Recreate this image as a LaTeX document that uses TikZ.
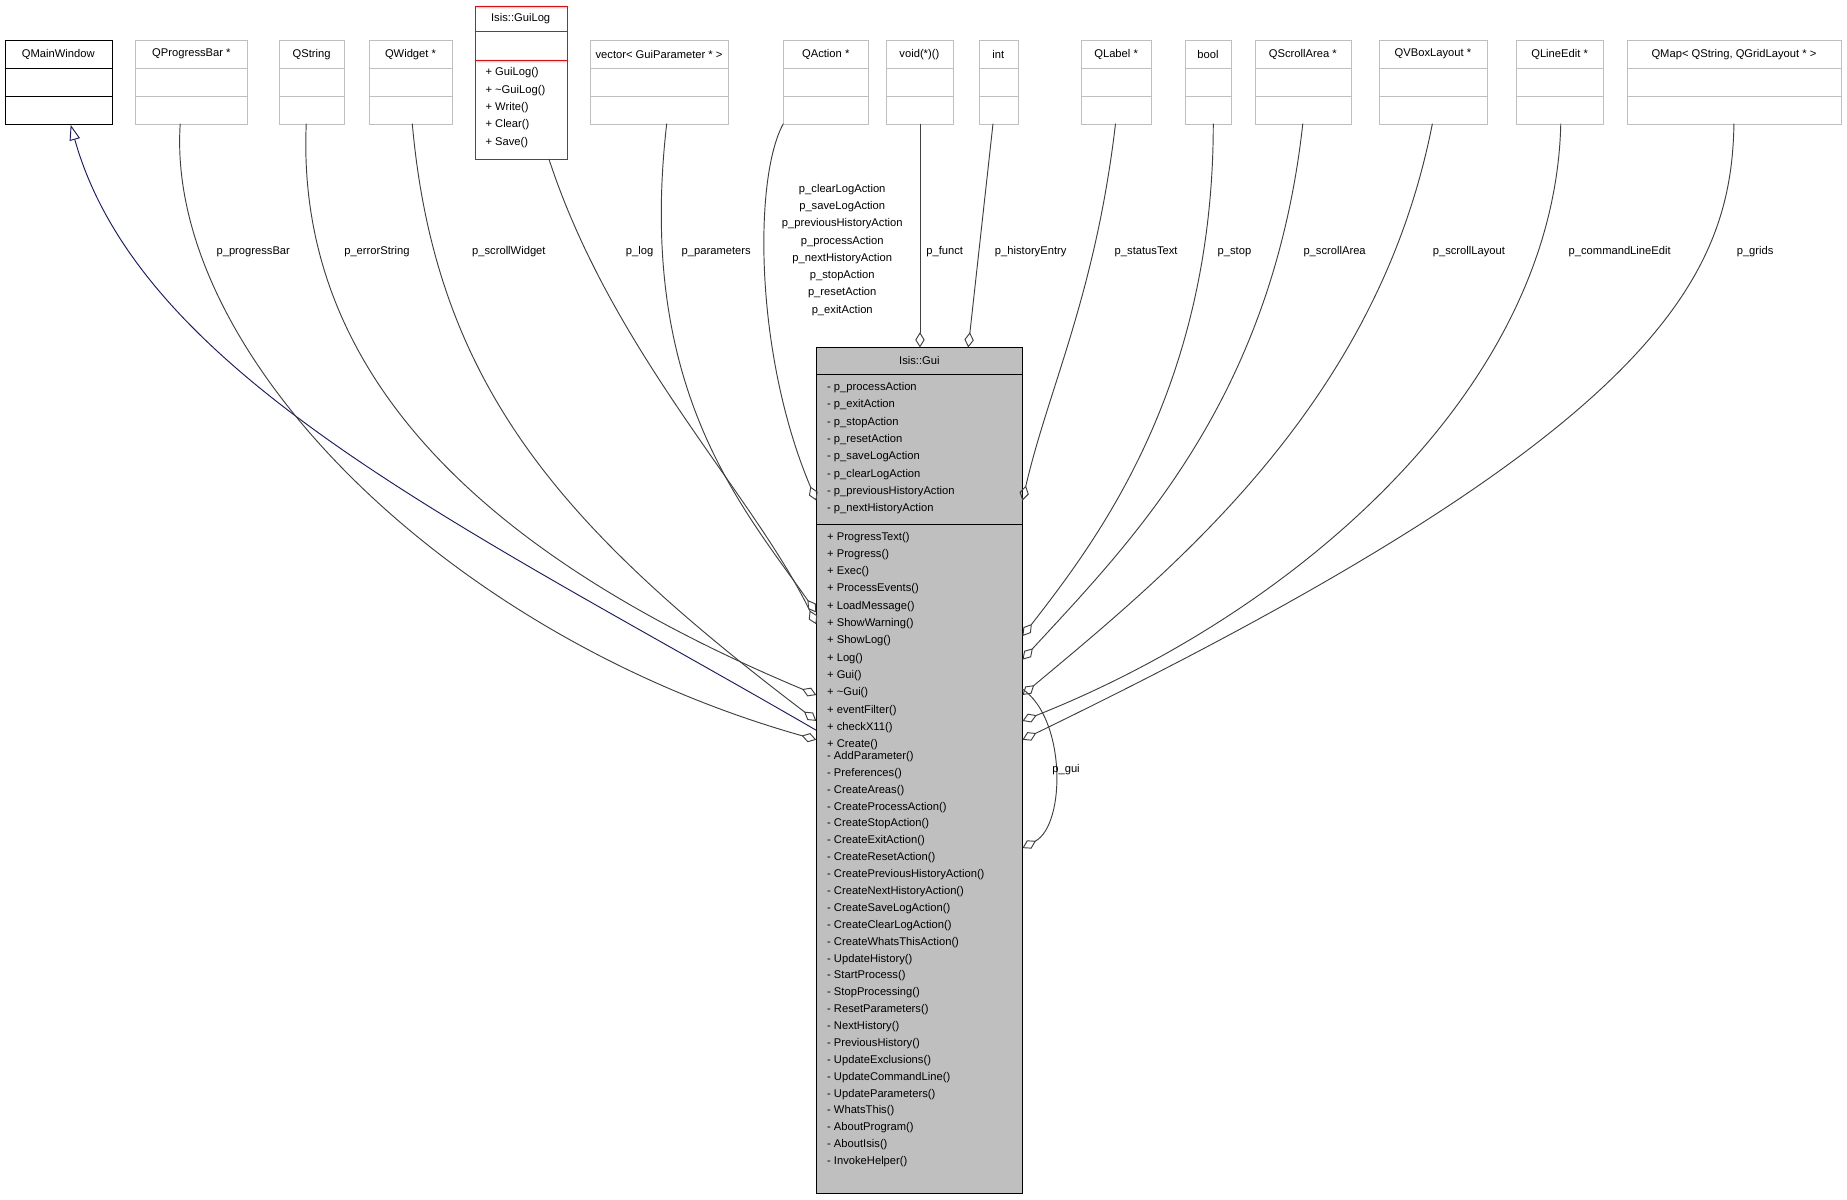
\documentclass[tikz,border=0pt]{standalone}
\usepackage{fontspec}
\setmainfont{Liberation Sans}
\usetikzlibrary{arrows.meta}
\definecolor{lgray}{HTML}{BFBFBF}
\definecolor{egray}{HTML}{404040}
\definecolor{navy}{HTML}{191970}
\tikzset{
  lbl/.style={font=\fontsize{9.5}{14.7}\selectfont,inner sep=0pt},
  agg/.style={draw=egray,line width=0.8pt,-{Diamond[open,length=13pt,width=8pt,line width=0.8pt]}},
  inh/.style={draw=navy,line width=0.8pt,-{Triangle[open,length=13pt,width=9pt,line width=0.8pt]}},
}
\newcommand\topbox[5]{%
  \node[draw=#5,line width=0.8pt,inner sep=0pt,minimum width={(#3-#2)*1pt},minimum height=71pt,anchor=north west] (#1) at (#2,-34) {};
  \draw[#5,line width=0.8pt] (#2,-58) -- (#3,-58) (#2,-82) -- (#3,-82);
  \node[lbl] at ({(#2+#3)/2},-46) {#4};
}
\begin{document}
\begin{tikzpicture}[x=1pt,y=1pt]
\useasboundingbox (0,0) rectangle (1568,-1018.7);
\topbox{qmw}{4}{95}{QMainWindow}{black}
\topbox{qpb}{115}{210}{QProgressBar *}{lgray}
\topbox{qs}{237}{292}{QString}{lgray}
\topbox{qw}{313}{384}{QWidget *}{lgray}
\topbox{vec}{501}{618}{vector< GuiParameter * >}{lgray}
\topbox{qa}{665}{737}{QAction *}{lgray}
\topbox{vf}{752}{809}{void(*)()}{lgray}
\topbox{int}{831}{864}{int}{lgray}
\topbox{ql}{918}{977}{QLabel *}{lgray}
\topbox{bool}{1006}{1045}{bool}{lgray}
\topbox{qsa}{1065}{1147}{QScrollArea *}{lgray}
\topbox{qvb}{1171}{1262}{QVBoxLayout *}{lgray}
\topbox{qle}{1287}{1361}{QLineEdit *}{lgray}
\topbox{qmap}{1381}{1563}{QMap< QString, QGridLayout * >}{lgray}
% GuiLog
\node[draw=red,line width=0.8pt,inner sep=0pt,minimum width=78pt,minimum height=130pt,anchor=north west] (glog) at (403,-5) {};
\draw[red,line width=0.8pt] (403,-27) -- (481,-27) (403,-51) -- (481,-51);
\node[lbl] at (442,-16) {Isis::GuiLog};
\foreach \t [count=\i from 0] in {+ GuiLog(),+ \textasciitilde GuiLog(),+ Write(),+ Clear(),+ Save()}
  \node[lbl,anchor=west] at (412,{-62-14.7*\i}) {\t};
% Gui
\node[draw=black,fill=lgray,line width=0.8pt,inner sep=0pt,minimum width=175pt,minimum height=718pt,anchor=north west] (gui) at (693,-295) {};
\draw[line width=0.8pt] (693,-318) -- (868,-318) (693,-445) -- (868,-445);
\node[lbl] at (780.5,-306) {Isis::Gui};
\foreach \t [count=\i from 0] in {p\_processAction,p\_exitAction,p\_stopAction,p\_resetAction,p\_saveLogAction,p\_clearLogAction,p\_previousHistoryAction,p\_nextHistoryAction}
  \node[lbl,anchor=west] at (702,{-329-14.7*\i}) {- \t};
\foreach \t [count=\i from 0] in {ProgressText(),Progress(),Exec(),ProcessEvents(),LoadMessage(),ShowWarning(),ShowLog(),Log(),Gui(),\textasciitilde Gui(),eventFilter(),checkX11(),Create()}
  \node[lbl,anchor=west] at (702,{-456-14.7*\i}) {+ \t};
\foreach \t [count=\i from 13] in {AddParameter(),Preferences(),CreateAreas(),CreateProcessAction(),CreateStopAction(),CreateExitAction(),CreateResetAction(),CreatePreviousHistoryAction(),CreateNextHistoryAction(),CreateSaveLogAction(),CreateClearLogAction(),CreateWhatsThisAction(),UpdateHistory(),StartProcess(),StopProcessing(),ResetParameters(),NextHistory(),PreviousHistory(),UpdateExclusions(),UpdateCommandLine(),UpdateParameters(),WhatsThis(),AboutProgram(),AboutIsis(),InvokeHelper()}
  \node[lbl,anchor=west] at (702,{-456-14.33*\i}) {- \t};
% attachment coordinates
\coordinate (gL1) at (693,-425);
\coordinate (gL2) at (693,-520);
\coordinate (gL3) at (693,-530);
\coordinate (gL4) at (693,-590);
\coordinate (gL5) at (693,-612);
\coordinate (gL6) at (693,-628);
\coordinate (gL7) at (693,-620);
\coordinate (gR1) at (868,-425);
\coordinate (gR2) at (868,-540);
\coordinate (gR3) at (868,-560);
\coordinate (gR4) at (868,-590);
\coordinate (gR5) at (868,-612);
\coordinate (gR6) at (868,-628);
\coordinate (gT1) at (781,-295);
\coordinate (gT2) at (822,-295);
% edges
\draw[inh] (gL7) .. controls (400,-450) and (120,-320) .. (60,-106);
\draw[agg] (153,-105) .. controls (140,-300) and (380,-540) .. (gL6);
\draw[agg] (260,-105) .. controls (250,-330) and (430,-480) .. (gL4);
\draw[agg] (350,-105) .. controls (370,-330) and (480,-450) .. (gL5);
\draw[agg] (466,-135) .. controls (520,-300) and (640,-420) .. (gL3);
\draw[agg] (566,-105) .. controls (540,-330) and (630,-430) .. (gL2);
\draw[agg] (665,-105) .. controls (640,-150) and (640,-300) .. (gL1);
\draw[agg] (781,-105) -- (gT1);
\draw[agg] (843,-105) -- (gT2);
\draw[agg] (947,-105) .. controls (930,-250) and (890,-330) .. (gR1);
\draw[agg] (1030,-105) .. controls (1030,-330) and (930,-460) .. (gR2);
\draw[agg] (1106,-105) .. controls (1080,-340) and (960,-460) .. (gR3);
\draw[agg] (1216,-105) .. controls (1170,-340) and (1000,-480) .. (gR4);
\draw[agg] (1325,-105) .. controls (1320,-330) and (1100,-520) .. (gR5);
\draw[agg] (1472,-105) .. controls (1470,-240) and (1400,-370) .. (gR6);
\coordinate (gs1) at (868,-585);
\coordinate (gs2) at (868,-720);
\draw[agg] (gs1) .. controls (905,-610) and (905,-700) .. (gs2);
% labels
\node[lbl] at (215,-214) {p\_progressBar};
\node[lbl] at (320,-214) {p\_errorString};
\node[lbl] at (432,-214) {p\_scrollWidget};
\node[lbl] at (543,-214) {p\_log};
\node[lbl] at (608,-214) {p\_parameters};
\node[lbl,align=center,anchor=north] at (715,-156) {p\_clearLogAction\\p\_saveLogAction\\p\_previousHistoryAction\\p\_processAction\\p\_nextHistoryAction\\p\_stopAction\\p\_resetAction\\p\_exitAction};
\node[lbl] at (802,-214) {p\_funct};
\node[lbl] at (875,-214) {p\_historyEntry};
\node[lbl] at (973,-214) {p\_statusText};
\node[lbl] at (1048,-214) {p\_stop};
\node[lbl] at (1133,-214) {p\_scrollArea};
\node[lbl] at (1247,-214) {p\_scrollLayout};
\node[lbl] at (1375,-214) {p\_commandLineEdit};
\node[lbl] at (1490,-214) {p\_grids};
\node[lbl] at (905,-653) {p\_gui};
\end{tikzpicture}
\end{document}
